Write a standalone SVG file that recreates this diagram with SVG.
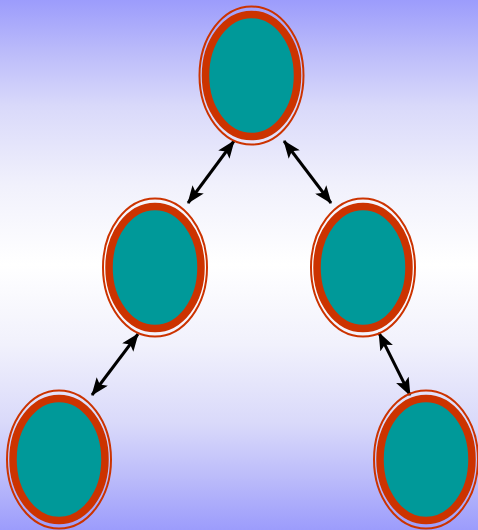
<svg xmlns="http://www.w3.org/2000/svg" width="478" height="530" viewBox="0 0 478 530">
<defs>
<linearGradient id="bg" x1="0" y1="0" x2="0" y2="1">
<stop offset="0" stop-color="#9c9cfc"/>
<stop offset="0.1" stop-color="#bcbcfa"/>
<stop offset="0.2" stop-color="#d9d9fa"/>
<stop offset="0.35" stop-color="#f1f1fc"/>
<stop offset="0.5" stop-color="#ffffff"/>
<stop offset="0.65" stop-color="#f1f1fc"/>
<stop offset="0.8" stop-color="#d9d9fa"/>
<stop offset="0.9" stop-color="#bcbcfa"/>
<stop offset="1" stop-color="#9c9cfc"/>
</linearGradient>
<marker id="ah" viewBox="0 0 18 14" refX="17" refY="7" markerWidth="18" markerHeight="14" markerUnits="userSpaceOnUse" orient="auto-start-reverse">
<path d="M0,0 L18,7 L0,14 L4,7 Z" fill="#000"/>
</marker>
<g id="node">
<ellipse cx="0" cy="0" rx="52" ry="69" fill="none" stroke="#cc3300" stroke-width="2"/>
<ellipse cx="0" cy="0" rx="46" ry="61" fill="#009999" stroke="#cc3300" stroke-width="7.5"/>
</g>
</defs>
<style>
.conn{stroke:#000;stroke-width:3;fill:none;marker-start:url(#ah);marker-end:url(#ah)}
</style>
<rect x="0" y="0" width="478" height="530" fill="url(#bg)"/>
<g id="connectors">
<line class="conn" x1="234" y1="141" x2="188" y2="203"/>
<line class="conn" x1="284" y1="141" x2="331" y2="203"/>
<line class="conn" x1="138" y1="334" x2="92" y2="395"/>
<line class="conn" x1="379" y1="333" x2="410" y2="395"/>
</g>
<g id="n1"><use href="#node" x="251.5" y="75.5"/></g>
<g id="n2"><use href="#node" x="155" y="267.5"/></g>
<g id="n3"><use href="#node" x="363" y="267.5"/></g>
<g id="n4"><use href="#node" x="59" y="459.5"/></g>
<g id="n5"><use href="#node" x="426" y="459.5"/></g>
</svg>
